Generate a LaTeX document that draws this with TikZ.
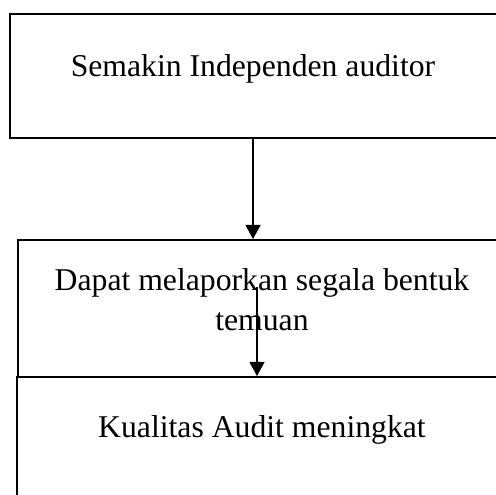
\documentclass[tikz,border=0pt]{standalone}
\usepackage{fontspec}
\setmainfont{Liberation Serif}
\usetikzlibrary{arrows.meta}
\usetikzlibrary{positioning}
\tikzstyle{box_node} = [
    rectangle, 
    draw=black, 
    line width=2.2pt, 
    inner sep=0pt, 
    minimum width=520pt, 
    anchor=north west
]
\tikzstyle{text_node} = [
    font=\fontsize{31.7}{40}\selectfont, 
    align=center, 
    inner sep=0pt, 
    anchor=base
]
\tikzstyle{flow} = [
    line width=1.1pt, 
    -{Triangle[width=15pt, length=14pt]}
]

\begin{document}
\begin{tikzpicture}[x=1pt, y=1pt]
\useasboundingbox (0,0) rectangle (496,495);
\clip (0,0) rectangle (496,495);
% boxes, open to the right
\node [box_node, minimum height=124pt] (independen) at (9,482) {};
\node [box_node, minimum height=137pt] (temuan) at (16.5,256) {};
\node [box_node, minimum height=140pt] (kualitas) at (16,119) {};
% texts
\node [text_node] (independen_text) at (253,418) {Semakin Independen auditor};
\node [text_node] (temuan_text) at (262,164) {Dapat melaporkan segala bentuk\\temuan};
\node [text_node] (kualitas_text) at (262,57) {Kualitas Audit meningkat};
% arrows
\coordinate (start) at (257,208);
\draw [flow] (independen_text |- independen.south) -- (independen_text |- temuan.north);
\draw [flow] (start) -- (start |- kualitas.north);
\end{tikzpicture}
\end{document}
